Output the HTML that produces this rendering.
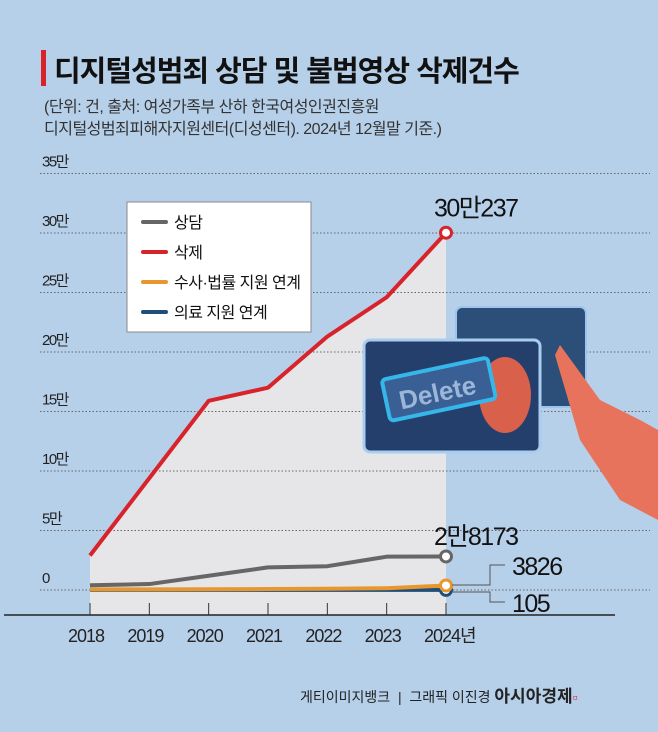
<!DOCTYPE html>
<html><head><meta charset="utf-8"><style>
body{margin:0;width:658px;height:732px;background:#b7d0ea;font-family:"Liberation Sans","Noto Sans CJK KR",sans-serif;overflow:hidden;position:relative}
.t{position:absolute;white-space:nowrap;color:#111}
</style></head><body>
<div style="position:absolute;left:41px;top:50px;width:5px;height:36px;background:#d8232a"></div>
<div class="t" style="left:54px;top:48px;font-size:29px;font-weight:bold;letter-spacing:-1px">디지털성범죄 상담 및 불법영상 삭제건수</div>
<div class="t" style="left:44px;top:93px;font-size:16px;color:#333;letter-spacing:-0.5px">(단위: 건, 출처: 여성가족부 산하 한국여성인권진흥원</div>
<div class="t" style="left:44px;top:115px;font-size:16px;color:#333;letter-spacing:-0.5px">디지털성범죄피해자지원센터(디성센터). 2024년 12월말 기준.)</div>
<svg id="chart" width="658" height="732" style="position:absolute;left:0;top:0"></svg>
<div class="t" style="left:300px;top:682px;font-size:14px;color:#222">게티이미지뱅크 &nbsp;|&nbsp; 그래픽 이진경 <b style="font-size:17px">아시아경제</b><span style="color:#d8232a">▫</span></div>
<script>
const years=["2018","2019","2020","2021","2022","2023","2024년"];
const yTicks=[0,5,10,15,20,25,30,35];
const consult=[0.4,0.5,1.2,1.9,2.0,2.8,2.8173];
const deletion=[2.9,9.4,15.9,17.0,21.3,24.6,30.0237];
const legal=[0.05,0.05,0.06,0.08,0.1,0.15,0.3826];
const medical=[0.01,0.01,0.01,0.01,0.01,0.01,0.0105];
const svg=document.getElementById('chart');const NS='http://www.w3.org/2000/svg';
const x=i=>90+i*(446-90)/6;const y=v=>590-v*11.9;
function el(t,a,name){const e=document.createElementNS(NS,t);for(const k in a)e.setAttribute(k,a[k]);


svg.appendChild(e);return e;}
el('polygon',{points:'90,615 '+deletion.map((v,i)=>x(i)+','+y(v)).join(' ')+' 446,615',fill:'#e6e6e8'},'area-under-deletion');
yTicks.forEach(v=>{el('line',{x1:40,x2:650,y1:y(v),y2:y(v),stroke:'#666','stroke-dasharray':'1.5,2','stroke-width':1},'gridline');
const t=el('text',{x:42,y:y(v)-7,'font-size':15,fill:'#222','letter-spacing':'-1.5'},'y-tick-label');t.textContent=v===0?'0':v+'만';});
el('line',{x1:4,x2:615,y1:615,y2:615,stroke:'#222','stroke-width':1.5},'x-axis');
years.forEach((yr,i)=>{el('line',{x1:x(i),x2:x(i),y1:603,y2:615,stroke:'#333'},'x-tick');
const t=el('text',{x:x(i)-22,y:642,'font-size':18,fill:'#222','letter-spacing':'-1'},'x-tick-label');t.textContent=yr;});
function line(d,c,name){el('polyline',{points:d.map((v,i)=>x(i)+','+y(v)).join(' '),fill:'none',stroke:c,'stroke-width':4,'stroke-linejoin':'round'},name);
el('circle',{cx:x(6),cy:y(d[6]),r:5.5,fill:'#fff',stroke:c,'stroke-width':3},name+'-end-marker');}
line(medical,'#1f4e79','medical-line');line(legal,'#e8962e','legal-line');line(consult,'#666','consult-line');line(deletion,'#d8232a','deletion-line');
el('polyline',{points:`452,585 490,585 490,565 505,565`,fill:'none',stroke:'#555','stroke-width':1},'leader-3826');
el('polyline',{points:`452,592 490,592 490,602 505,602`,fill:'none',stroke:'#555','stroke-width':1},'leader-105');
[['30만237',434,y(30.0237)-16,'deletion-value-label'],['2만8173',434,545,'consult-value-label'],['3826',512,575,'legal-value-label'],['105',512,612,'medical-value-label']].forEach(a=>{
const t=el('text',{x:a[1],y:a[2],'font-size':25,fill:'#111','letter-spacing':'-1.5'},a[3]);t.textContent=a[0];});
el('rect',{x:127,y:202,width:184,height:130,fill:'#fff',stroke:'#888'},'legend-box');
[['상담','#666'],['삭제','#d8232a'],['수사·법률 지원 연계','#e8962e'],['의료 지원 연계','#1f4e79']].forEach((l,i)=>{
const yy=222+i*30;el('line',{x1:143,x2:166,y1:yy,y2:yy,stroke:l[1],'stroke-width':4,'stroke-linecap':'round'},'legend-swatch');
const t=el('text',{x:174,y:yy+6,'font-size':16,fill:'#111','letter-spacing':'-0.5'},'legend-entry');t.textContent=l[0];});
el('rect',{x:456,y:307,width:130,height:100,rx:6,fill:'#2c4f7a',stroke:'#9cc4ec','stroke-width':2},'illustration-card-back');
el('rect',{x:364,y:340,width:176,height:112,rx:6,fill:'#243f6c',stroke:'#a8cdee','stroke-width':3},'illustration-card-front');
el('ellipse',{cx:505,cy:395,rx:26,ry:38,fill:'#d9604a'},'illustration-face');
el('rect',{x:385,y:368,width:108,height:42,rx:4,fill:'#3a5f95',stroke:'#36b7ea','stroke-width':4,transform:'rotate(-12 440 390)'},'illustration-delete-stamp');
const dt=el('text',{x:398,y:401,'font-size':26,fill:'#9cb6d8','font-weight':'bold',transform:'rotate(-12 440 390)'},'illustration-delete-text');dt.textContent='Delete';
el('path',{d:'M560 345 L600 400 L640 420 L658 430 L658 520 L620 500 L580 440 L555 355 Z',fill:'#e8735c'},'illustration-hand');
</script>
</body></html>
